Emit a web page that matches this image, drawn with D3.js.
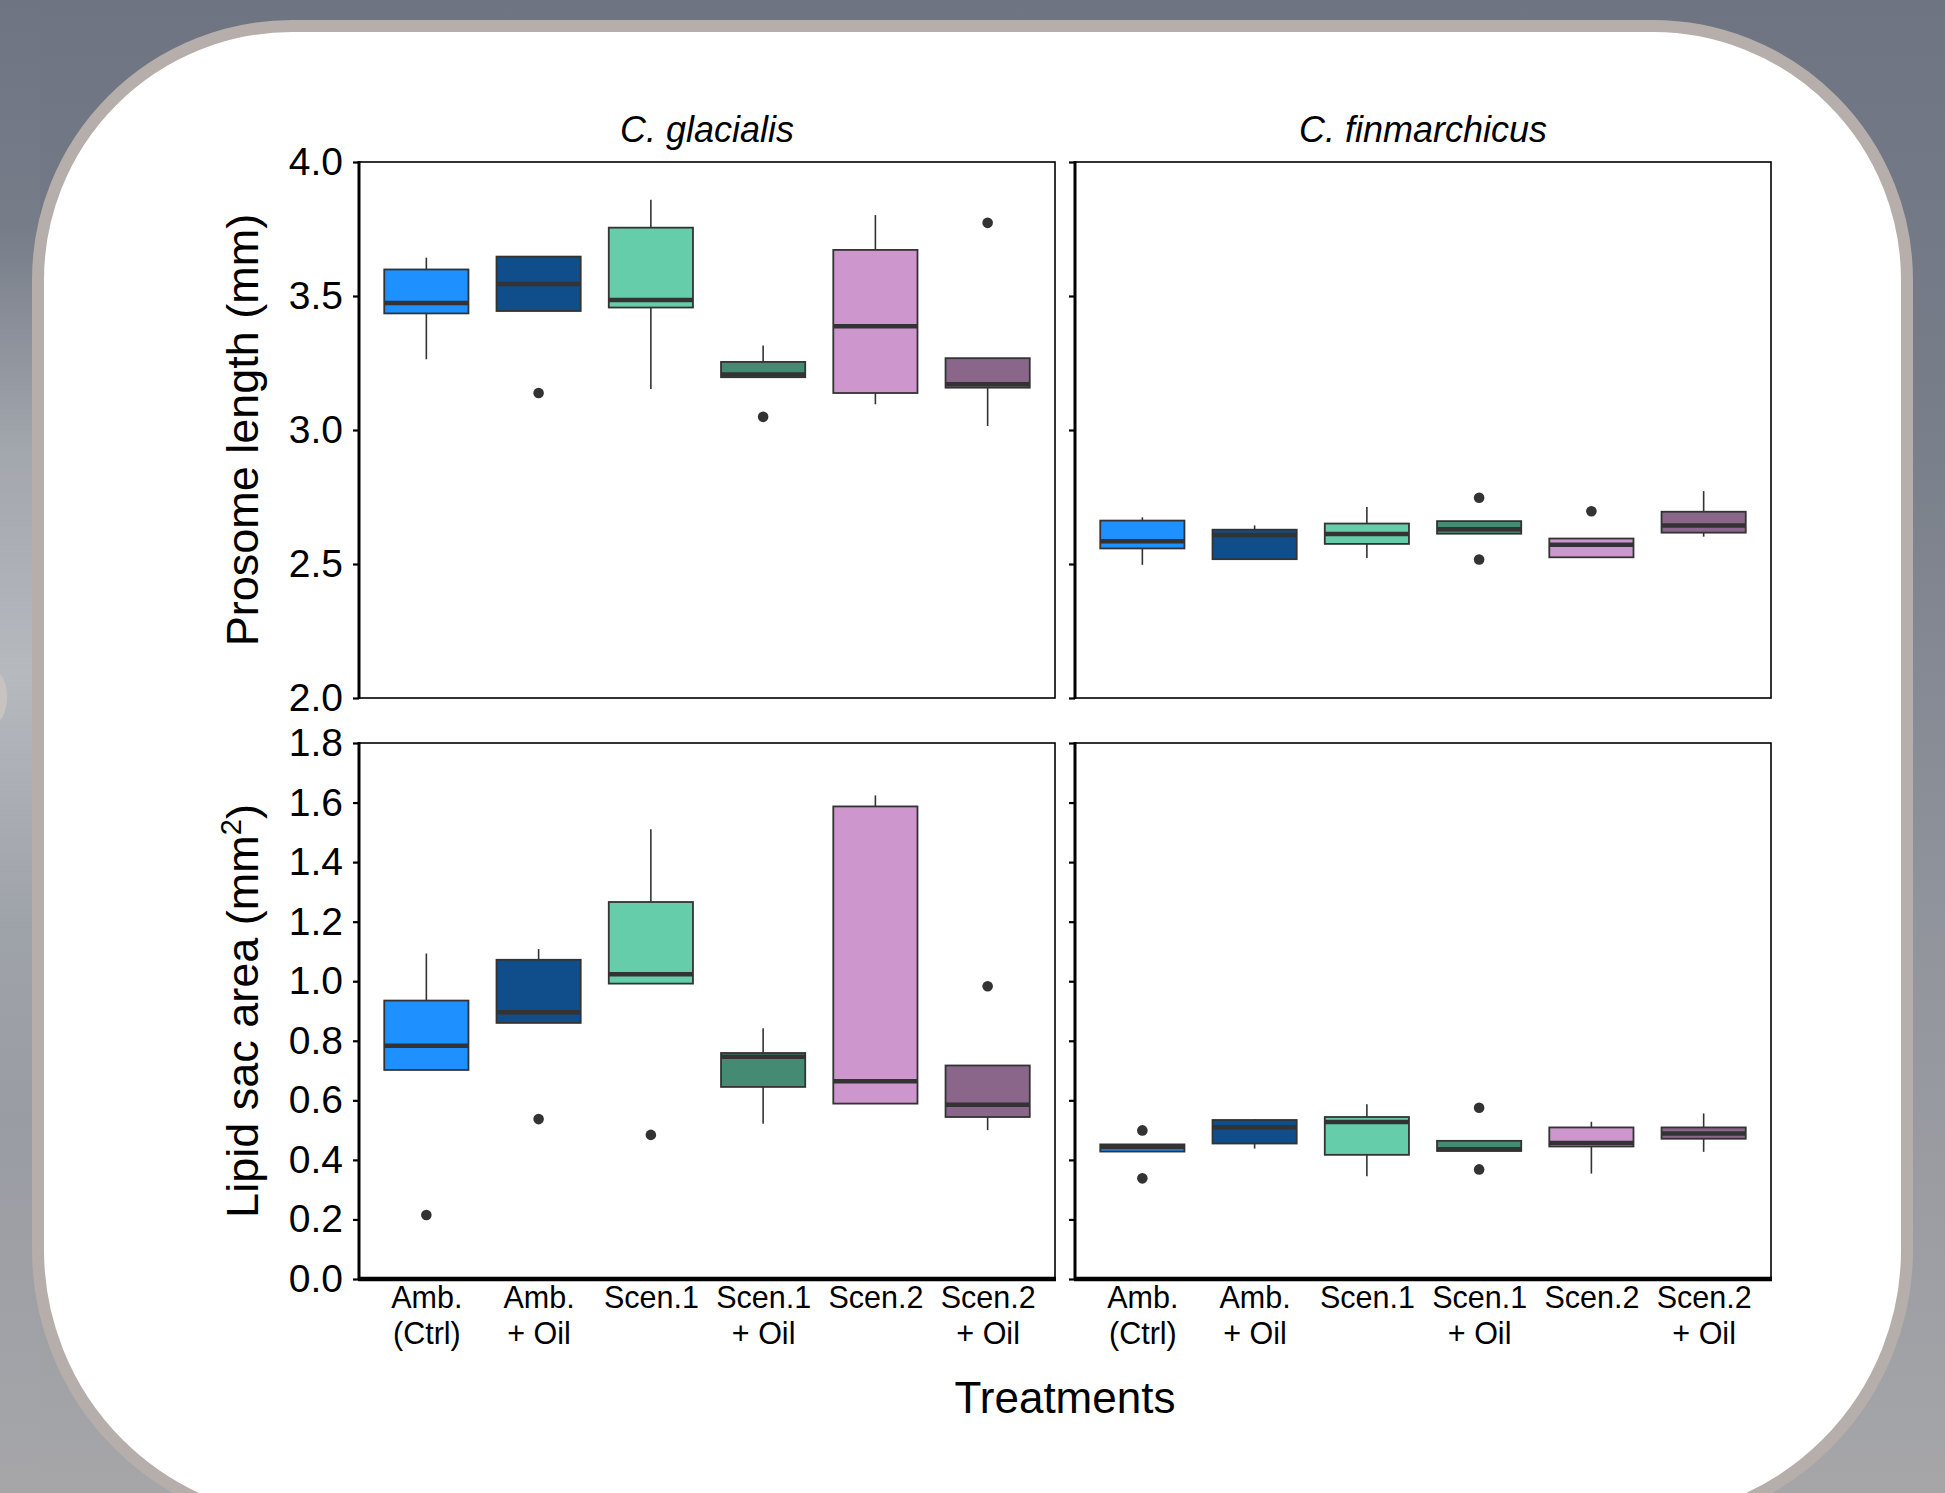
<!DOCTYPE html>
<html>
<head>
<meta charset="utf-8">
<script src="https://cdn.jsdelivr.net/npm/d3@7"></script>
<style>
  body { margin: 0; background: #737985; }
  svg { display: block; }
  text { font-family: "Liberation Sans", Arial, sans-serif; fill: #000; }
</style>
</head>
<body>
<div id="chart"></div>
<script>
// treatments
var treatments = ["Amb. (Ctrl)", "Amb. + Oil", "Scen.1", "Scen.1 + Oil", "Scen.2", "Scen.2 + Oil"];
var labelTop = ["Amb.", "Amb.", "Scen.1", "Scen.1", "Scen.2", "Scen.2"];
var labelBottom = ["(Ctrl)", "+ Oil", "", "+ Oil", "", "+ Oil"];
var colors = ["#1E90FF", "#104E8B", "#66CDAA", "#458B74", "#CD96CD", "#8B668B"];
var species = ["C. glacialis", "C. finmarchicus"];

// box stats: [lower whisker, Q1, median, Q3, upper whisker]
var glacProsome = [
  [3.264, 3.435, 3.474, 3.599, 3.643],
  [3.444, 3.444, 3.545, 3.647, 3.647],
  [3.153, 3.457, 3.485, 3.755, 3.859],
  [3.197, 3.197, 3.207, 3.254, 3.315],
  [3.096, 3.138, 3.387, 3.672, 3.802],
  [3.015, 3.158, 3.171, 3.268, 3.268]
];
var glacProsomeOut = [[], [3.138], [], [3.049], [], [3.773]];

var finmProsome = [
  [2.497, 2.558, 2.585, 2.662, 2.674],
  [2.518, 2.518, 2.608, 2.628, 2.644],
  [2.522, 2.575, 2.612, 2.651, 2.713],
  [2.613, 2.613, 2.630, 2.660, 2.660],
  [2.523, 2.525, 2.572, 2.595, 2.595],
  [2.602, 2.617, 2.644, 2.695, 2.772]
];
var finmProsomeOut = [[], [], [], [2.747, 2.517], [2.697], []];

var glacLipid = [
  [0.702, 0.702, 0.783, 0.935, 1.093],
  [0.860, 0.860, 0.896, 1.072, 1.108],
  [0.992, 0.992, 1.023, 1.266, 1.510],
  [0.521, 0.645, 0.746, 0.759, 0.842],
  [0.589, 0.589, 0.664, 1.587, 1.624],
  [0.500, 0.544, 0.585, 0.717, 0.717]
];
var glacLipidOut = [[0.215], [0.537], [0.484], [], [], [0.983]];

var finmLipid = [
  [0.428, 0.428, 0.443, 0.452, 0.452],
  [0.438, 0.455, 0.510, 0.534, 0.537],
  [0.345, 0.417, 0.527, 0.544, 0.587],
  [0.430, 0.430, 0.436, 0.464, 0.464],
  [0.354, 0.445, 0.457, 0.509, 0.528],
  [0.427, 0.471, 0.489, 0.509, 0.556]
];
var finmLipidOut = [[0.499, 0.338], [], [], [0.575, 0.368], [], []];

var prosomeTicks = [2.0, 2.5, 3.0, 3.5, 4.0];
var lipidTicks = [0.0, 0.2, 0.4, 0.6, 0.8, 1.0, 1.2, 1.4, 1.6, 1.8];

var W = 1945, H = 1493;
var svg = d3.select("#chart").append("svg")
  .attr("width", W)
  .attr("height", H);

// background (blurred photo look)
var defs = svg.append("defs");
var bg = defs.append("linearGradient").attr("id", "bg")
  .attr("x1", 0).attr("y1", 0).attr("x2", 0).attr("y2", 1);
bg.append("stop").attr("offset", "0").attr("stop-color", "#6e7481");
bg.append("stop").attr("offset", "0.25").attr("stop-color", "#767c88");
bg.append("stop").attr("offset", "0.6").attr("stop-color", "#8f939b");
bg.append("stop").attr("offset", "1").attr("stop-color", "#a6a6a9");
svg.append("rect").attr("width", W).attr("height", H).attr("fill", "url(#bg)");
var side = defs.append("linearGradient").attr("id", "side")
  .attr("x1", 0).attr("y1", 0).attr("x2", 0).attr("y2", 1);
side.append("stop").attr("offset", "0").attr("stop-color", "#6e7481");
side.append("stop").attr("offset", "0.15").attr("stop-color", "#767c88");
side.append("stop").attr("offset", "0.3").attr("stop-color", "#a2a6ad");
side.append("stop").attr("offset", "0.45").attr("stop-color", "#b6babf");
side.append("stop").attr("offset", "0.62").attr("stop-color", "#9ea2a9");
side.append("stop").attr("offset", "0.75").attr("stop-color", "#999ca3");
side.append("stop").attr("offset", "1").attr("stop-color", "#a6a6a9");
svg.append("rect").attr("x", 0).attr("y", 0).attr("width", 40).attr("height", H)
  .attr("fill", "url(#side)");
svg.append("ellipse").attr("cx", -6).attr("cy", 697).attr("rx", 13).attr("ry", 26)
  .attr("fill", "#c9c3bf");

// rounded card
var cL = 38, cR = 1907, cT = 26, cB = 1524, rTop = 254, rBot = 274;
var card = d3.path();
card.moveTo(cL + rTop, cT);
card.lineTo(cR - rTop, cT);
card.arcTo(cR, cT, cR, cT + rTop, rTop);
card.lineTo(cR, cB - rBot);
card.arcTo(cR, cB, cR - rBot, cB, rBot);
card.lineTo(cL + rBot, cB);
card.arcTo(cL, cB, cL, cB - rBot, rBot);
card.lineTo(cL, cT + rTop);
card.arcTo(cL, cT, cL + rTop, cT, rTop);
card.closePath();
svg.append("path").attr("d", card.toString())
  .attr("fill", "#fff").attr("stroke", "#b5aeaa").attr("stroke-width", 12);

// panel layout
var colX = [359, 1075], panelW = 696;
var rowY = [162, 743], panelH = 536;

function drawPanel(px, py, domain, ticks, stats, outs, showY, showX, title) {
  var g = svg.append("g").attr("transform", "translate(" + px + "," + py + ")");

  var x = d3.scalePoint().domain(treatments).range([0, panelW]).padding(0.6);
  var y = d3.scaleLinear().domain(domain).range([panelH, 0]);
  var bw = x.step() * 0.75;

  g.append("rect").attr("width", panelW).attr("height", panelH)
    .attr("fill", "#fff").attr("stroke", "#000").attr("stroke-width", 1.6);

  // y axis
  var yAxis = d3.axisLeft(y).tickValues(ticks).tickSize(6).tickPadding(10)
    .tickFormat(showY ? d3.format(".1f") : "");
  var ya = g.append("g").call(yAxis);
  ya.select(".domain").remove();
  ya.selectAll("line").attr("stroke", "#000").attr("stroke-width", 2.2);
  ya.selectAll("text").style("font-size", "39px").attr("fill", "#000");
  g.append("line").attr("x1", 0).attr("x2", 0).attr("y1", -1).attr("y2", panelH + 1)
    .attr("stroke", "#000").attr("stroke-width", 3);

  if (title) {
    g.append("text").attr("x", panelW / 2).attr("y", -20)
      .attr("text-anchor", "middle").style("font-size", "36px")
      .style("font-style", "italic").text(title);
  }

  if (showX) {
    g.append("line").attr("x1", -1).attr("x2", panelW + 1).attr("y1", panelH).attr("y2", panelH)
      .attr("stroke", "#000").attr("stroke-width", 4.5);
    var xAxis = d3.axisBottom(x).tickSize(0).tickFormat("");
    var xa = g.append("g").attr("transform", "translate(0," + panelH + ")").call(xAxis);
    xa.select(".domain").remove();
    xa.selectAll(".tick").each(function(d, i) {
      var t = d3.select(this).append("text").attr("text-anchor", "middle")
        .attr("fill", "#000").style("font-size", "30.5px");
      t.append("tspan").attr("x", 0).attr("y", 29).text(labelTop[i]);
      if (labelBottom[i]) t.append("tspan").attr("x", 0).attr("y", 65).text(labelBottom[i]);
    });
  }

  var boxes = g.selectAll(".box").data(stats).join("g")
    .attr("transform", function(d, i) { return "translate(" + x(treatments[i]) + ",0)"; });

  // whiskers
  boxes.append("line").attr("x1", 0).attr("x2", 0)
    .attr("y1", function(d) { return y(d[3]); }).attr("y2", function(d) { return y(d[4]); })
    .attr("stroke", "#333").attr("stroke-width", 1.6);
  boxes.append("line").attr("x1", 0).attr("x2", 0)
    .attr("y1", function(d) { return y(d[1]); }).attr("y2", function(d) { return y(d[0]); })
    .attr("stroke", "#333").attr("stroke-width", 1.6);

  boxes.append("rect").attr("x", -bw / 2).attr("width", bw)
    .attr("y", function(d) { return y(d[3]); })
    .attr("height", function(d) { return y(d[1]) - y(d[3]); })
    .attr("fill", function(d, i) { return colors[i]; })
    .attr("stroke", "#333").attr("stroke-width", 1.8);

  boxes.append("line").attr("x1", -bw / 2).attr("x2", bw / 2)
    .attr("y1", function(d) { return y(d[2]); }).attr("y2", function(d) { return y(d[2]); })
    .attr("stroke", "#333").attr("stroke-width", 4.5);

  // outliers
  boxes.selectAll("circle").data(function(d, i) { return outs[i]; }).join("circle")
    .attr("cx", 0).attr("cy", function(v) { return y(v); }).attr("r", 5.3)
    .attr("fill", "#333");
}

drawPanel(colX[0], rowY[0], [2, 4], prosomeTicks, glacProsome, glacProsomeOut, true, false, species[0]);
drawPanel(colX[1], rowY[0], [2, 4], prosomeTicks, finmProsome, finmProsomeOut, false, false, species[1]);
drawPanel(colX[0], rowY[1], [0, 1.8], lipidTicks, glacLipid, glacLipidOut, true, true, null);
drawPanel(colX[1], rowY[1], [0, 1.8], lipidTicks, finmLipid, finmLipidOut, false, true, null);

// axis titles
svg.append("text")
  .attr("transform", "translate(258," + (rowY[0] + panelH / 2) + ") rotate(-90)")
  .attr("text-anchor", "middle").style("font-size", "45px")
  .text("Prosome length (mm)");

var lt = svg.append("text")
  .attr("transform", "translate(258," + (rowY[1] + panelH / 2) + ") rotate(-90)")
  .attr("text-anchor", "middle").style("font-size", "45px");
lt.append("tspan").text("Lipid sac area (mm");
lt.append("tspan").attr("dy", -17).style("font-size", "29px").text("2");
lt.append("tspan").attr("dy", 17).text(")");

svg.append("text")
  .attr("x", (colX[0] + colX[1] + panelW) / 2).attr("y", 1413)
  .attr("text-anchor", "middle").style("font-size", "44px")
  .text("Treatments");
</script>
</body>
</html>
